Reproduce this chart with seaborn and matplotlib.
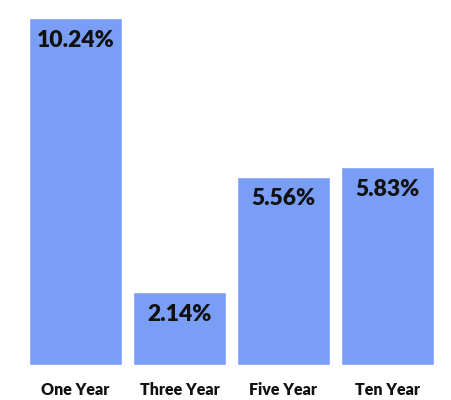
import matplotlib
matplotlib.use("Agg")
import matplotlib.pyplot as plt
import seaborn as sns
import pandas as pd

categories = ["One Year", "Three Year", "Five Year", "Ten Year"]
values = [10.24, 2.14, 5.56, 5.83]
labels = ["10.24%", "2.14%", "5.56%", "5.83%"]

sns.set_style("white")
plt.rcParams["font.family"] = ["Lato", "DejaVu Sans"]

df = pd.DataFrame({"period": categories, "ret": values})

fig = plt.figure(figsize=(4.52, 4.00), dpi=100)
ax = fig.add_axes([0.052, 0.0875, 0.920, 0.8675])
sns.barplot(data=df, x="period", y="ret", color="#7a9ef6", saturation=1,
            width=0.9, ax=ax)
ax.set_xlim(-0.5, 3.5)
ax.set_ylim(0, 10.24)
for i, (v, lab) in enumerate(zip(values, labels)):
    ax.annotate(lab, (i, v), xytext=(0, -16), textcoords="offset points",
                ha="center", va="center", fontsize=16.5, fontweight="heavy",
                color="#111111")
ax.set_xlabel("")
ax.set_ylabel("")
ax.set_yticks([])
ax.tick_params(axis="x", length=0, pad=12, labelsize=11.5)
for t in ax.get_xticklabels():
    t.set_fontweight("heavy")
    t.set_color("#111111")
for s in ax.spines.values():
    s.set_visible(False)
fig.savefig("out.png", dpi=100)
